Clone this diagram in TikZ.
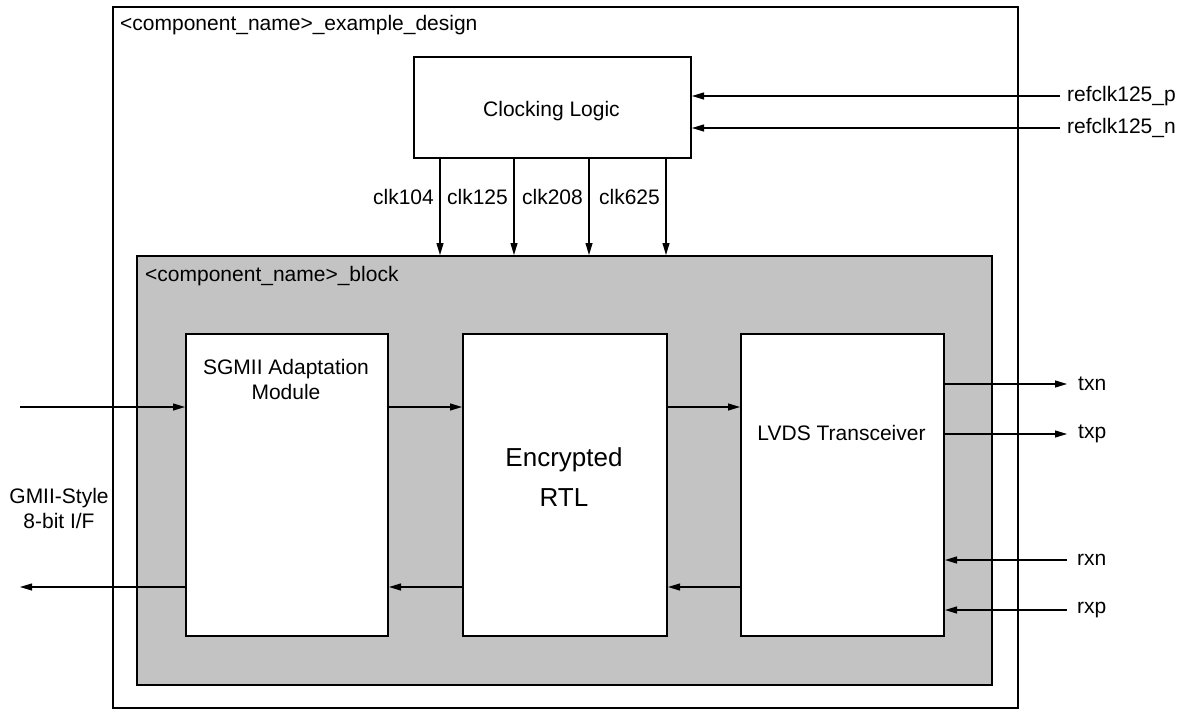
\documentclass[tikz,border=0pt]{standalone}
\usepackage{fontspec}
\setmainfont{Liberation Sans}
\usetikzlibrary{arrows.meta}
\definecolor{blockgrey}{HTML}{C3C3C3}
\tikzset{
  box/.style={draw=black, line width=2pt, fill=white, inner sep=0pt},
  sig/.style={line width=1.1pt, -{Triangle[length=12pt,width=7pt]}},
  lbl/.style={font=\fontsize{21}{25}\selectfont, inner sep=0pt},
}
\begin{document}
\begin{tikzpicture}[x=1pt,y=-1pt]
\useasboundingbox (0,0) rectangle (1199,712);
% outer box
\node[box, anchor=north west, minimum width=905pt, minimum height=701pt] (outer) at (112,6) {};
\node[lbl, anchor=west] (outerlbl) at (120,25) {<component\_name>\_example\_design};
% clocking
\node[box, anchor=north west, minimum width=277pt, minimum height=101pt] (clk) at (413,56) {};
\node[lbl] (clklbl) at (551.5,111) {Clocking Logic};
% grey block
\node[box, fill=blockgrey, anchor=north west, minimum width=855pt, minimum height=429pt] (blk) at (136,255) {};
\node[lbl, anchor=west] (blklbl) at (145,276) {<component\_name>\_block};
% inner boxes
\node[box, anchor=north west, minimum width=202pt, minimum height=302pt] (sg) at (185,333) {};
\node[box, anchor=north west, minimum width=204pt, minimum height=302pt] (enc) at (462,333) {};
\node[box, anchor=north west, minimum width=203pt, minimum height=302pt] (lv) at (740,333) {};
\node[lbl, align=center] (sgl) at (286,379) {SGMII Adaptation\\Module};
\node[font=\fontsize{26}{40}\selectfont, inner sep=0pt, align=center] (encl) at (564,477) {Encrypted\\RTL};
\node[lbl] (lvl) at (841.5,433) {LVDS Transceiver};
% clock lines
\foreach \x/\n in {440/clk104,514/clk125,589/clk208,666/clk625}{
  \coordinate (top\n) at (\x,157);
  \coordinate (bot\n) at (\x,255);
  \draw[sig] (top\n) -- (bot\n);
  \node[lbl, anchor=east] (l\n) at (\x-6,197) {\n};
}
% refclk
\coordinate (rp) at (1060,96);
\coordinate (rn) at (1060,128);
\draw[sig] (rp) -- (rp -| clk.east);
\draw[sig] (rn) -- (rn -| clk.east);
\node[lbl, anchor=west] (rpl) at (1067,96) {refclk125\_p};
\node[lbl, anchor=west] (rnl) at (1067,128) {refclk125\_n};
% gmii
\coordinate (gin) at (20,407);
\coordinate (gout) at (20,587);
\draw[sig] (gin) -- (gin -| sg.west);
\draw[sig] (gout -| sg.west) -- (gout);
\node[lbl, align=center] (gl) at (59,508) {GMII-Style\\8-bit I/F};
% between blocks
\draw[sig] (sg.east |- gin) -- (enc.west |- gin);
\draw[sig] (enc.east |- gin) -- (lv.west |- gin);
\draw[sig] (enc.west |- gout) -- (sg.east |- gout);
\draw[sig] (lv.west |- gout) -- (enc.east |- gout);
% tx/rx
\coordinate (txn) at (1067,384);
\coordinate (txp) at (1067,434);
\coordinate (rxn) at (1067,560);
\coordinate (rxp) at (1067,610);
\draw[sig] (txn -| lv.east) -- (txn);
\draw[sig] (txp -| lv.east) -- (txp);
\draw[sig] (rxn) -- (rxn -| lv.east);
\draw[sig] (rxp) -- (rxp -| lv.east);
\node[lbl, anchor=west] (txnl) at (1078,384) {txn};
\node[lbl, anchor=west] (txpl) at (1078,434) {txp};
\node[lbl, anchor=west] (rxnl) at (1077,560) {rxn};
\node[lbl, anchor=west] (rxpl) at (1077,610) {rxp};
\end{tikzpicture}
\end{document}
